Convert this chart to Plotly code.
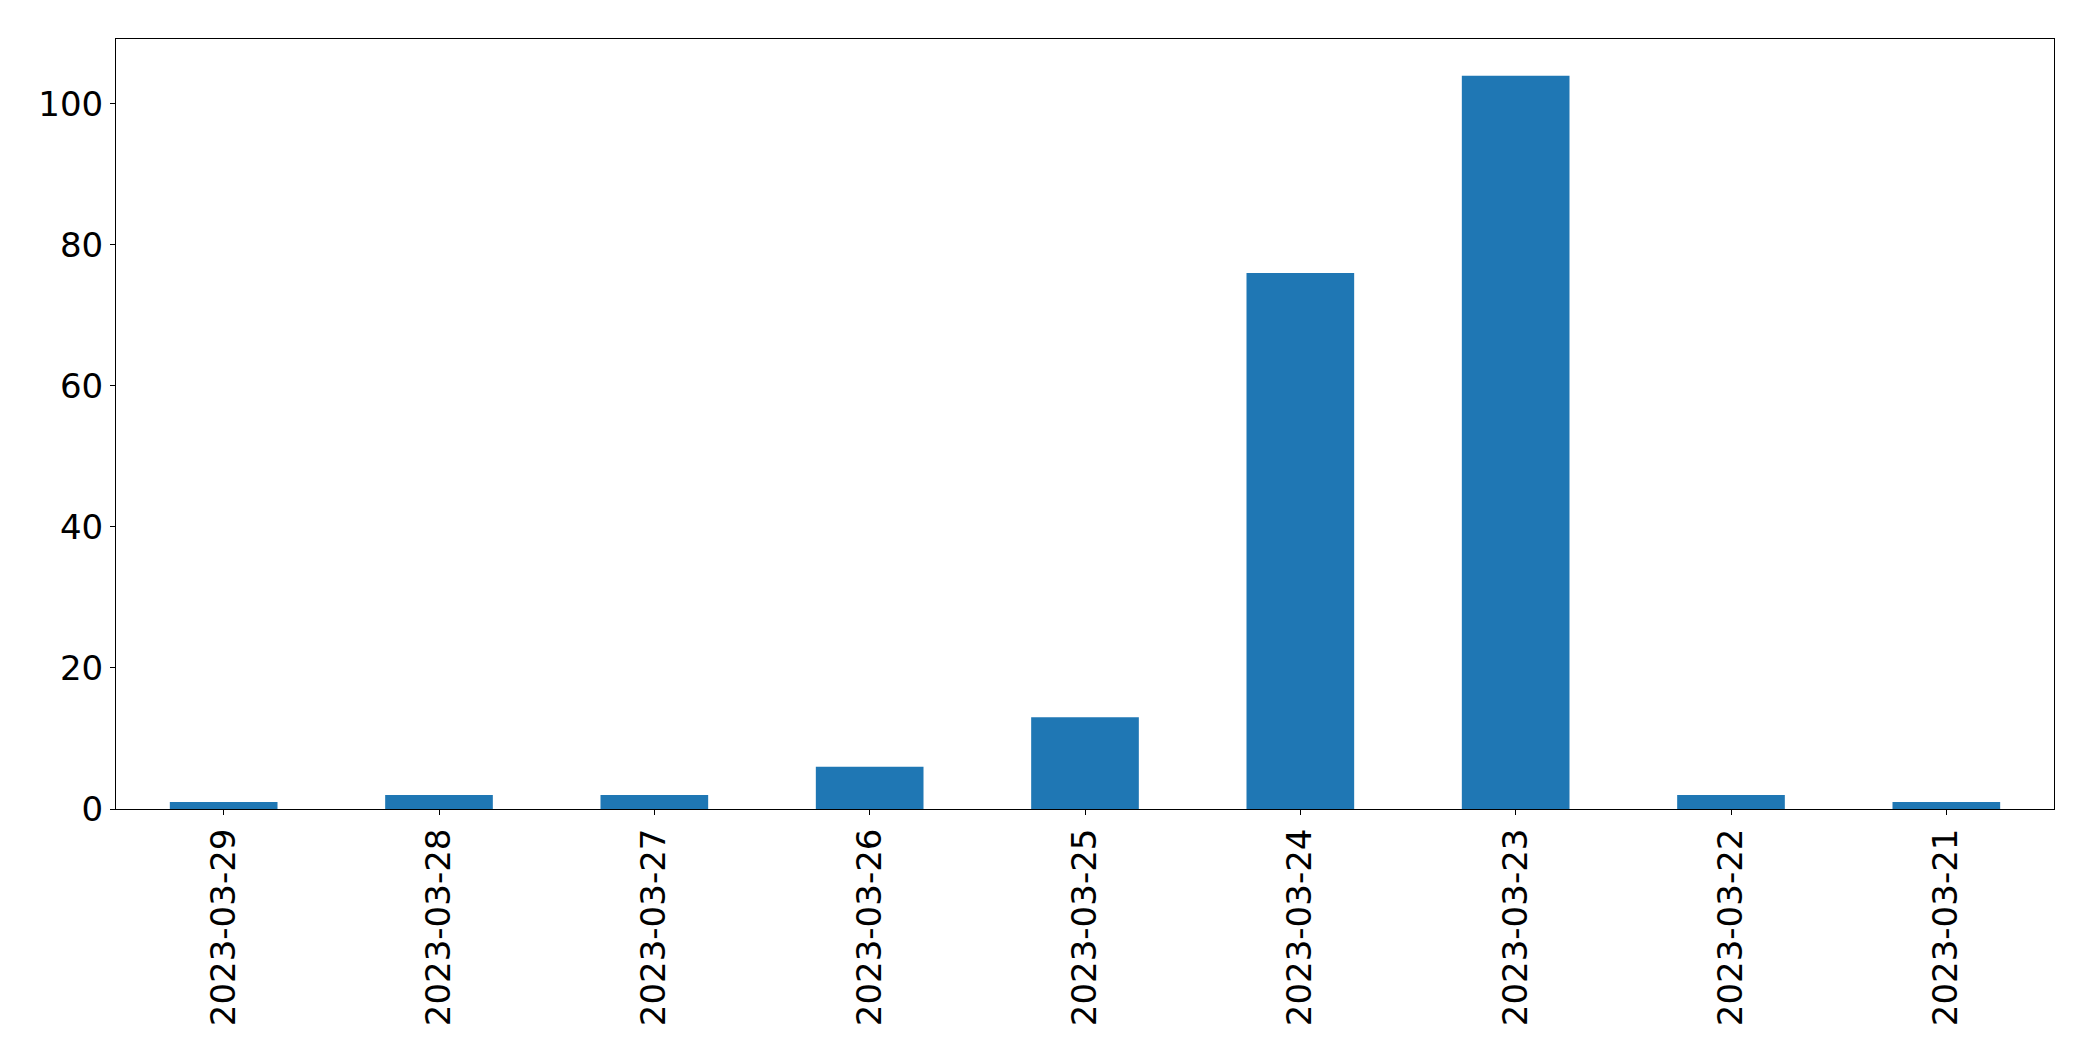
import plotly.graph_objects as go

dates = ["2023-03-29", "2023-03-28", "2023-03-27", "2023-03-26", "2023-03-25",
         "2023-03-24", "2023-03-23", "2023-03-22", "2023-03-21"]
counts = [1, 2, 2, 6, 13, 76, 104, 2, 1]
y_ticks = [0, 20, 40, 60, 80, 100]

fig = go.Figure(go.Bar(
    x=dates, y=counts, width=0.5,
    marker=dict(color="#1f77b4", line=dict(width=0)),
))

font = dict(family="DejaVu Sans", size=34, color="black")
fig.update_layout(
    width=2077, height=1045,
    margin=dict(l=108, r=31, t=31, b=244),
    paper_bgcolor="white", plot_bgcolor="white",
    showlegend=False,
    font=font,
)
fig.update_xaxes(
    type="category", range=[-0.5, len(dates) - 0.5],
    tickangle=-90, ticks="outside", ticklen=5, tickcolor="black",
    showline=True, linecolor="black", linewidth=1, mirror=True,
    showgrid=False, zeroline=False, tickfont=font,
)
fig.update_yaxes(
    range=[0, max(counts) * 1.05], tickvals=y_ticks,
    ticks="outside", ticklen=5, tickcolor="black",
    showline=True, linecolor="black", linewidth=1, mirror=True,
    showgrid=False, zeroline=False, tickfont=font,
)
fig.write_html("out.html")
